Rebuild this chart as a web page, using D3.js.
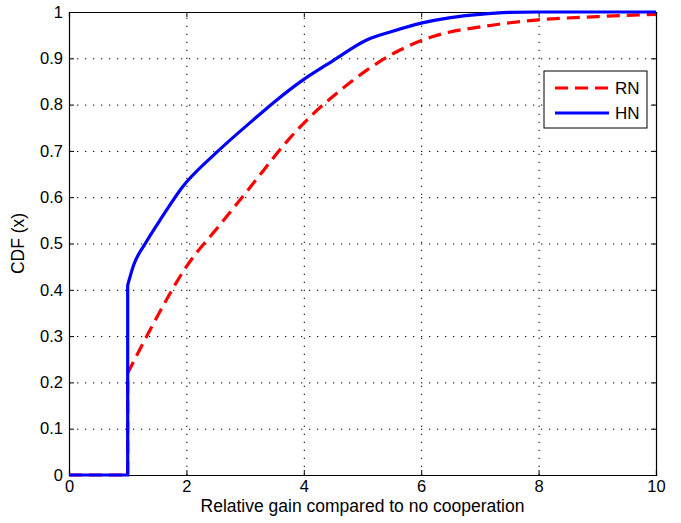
<!DOCTYPE html>
<html>
<head>
<meta charset="utf-8">
<script src="https://cdn.jsdelivr.net/npm/d3@7"></script>
<style>
  body { margin: 0; background: #fff; }
  svg { display: block; font-family: "Liberation Sans", Arial, sans-serif; }
  .axis path { stroke: #000; }
  .axis line { stroke: #000; }
  .axis text { font-size: 16.5px; fill: #000; }
  .grid line { stroke: #000; stroke-dasharray: 1.3, 6.7; }
  .grid path { display: none; }
</style>
</head>
<body>
<svg id="chart"></svg>
<script>
// Series (x = relative gain, y = CDF)
const rnX = [0, 1, 1, 1.38, 2, 2.57, 3.14, 3.71, 4.16, 4.5, 5.08, 5.64, 6.2, 7.12, 8, 9, 10];
const rnY = [0, 0, 0.22, 0.313, 0.45, 0.54, 0.63, 0.72, 0.78, 0.818, 0.875, 0.918, 0.947, 0.97, 0.983, 0.99, 0.995];

const hnX = [0, 1, 1, 1.1, 1.3, 1.6, 1.92, 2.5, 3.14, 3.54, 3.94, 4.5, 5.08, 5.5, 6, 6.5, 7, 7.5, 8, 10];
const hnY = [0, 0, 0.41, 0.453, 0.5, 0.56, 0.62, 0.695, 0.767, 0.81, 0.849, 0.895, 0.94, 0.958, 0.976, 0.988, 0.995, 0.999, 1, 1];

const xTicks = [0, 2, 4, 6, 8, 10];
const yTicks = [0, 0.1, 0.2, 0.3, 0.4, 0.5, 0.6, 0.7, 0.8, 0.9, 1];

const seriesNames = ["RN", "HN"];
const seriesColors = ["#ff0000", "#0000ff"];

const width = 681;
const height = 523;
const margin = { top: 12, right: 25, bottom: 48, left: 69 };
const innerW = width - margin.left - margin.right;
const innerH = height - margin.top - margin.bottom;

const svg = d3.select("#chart")
    .attr("width", width)
    .attr("height", height);

const g = svg.append("g")
    .attr("transform", `translate(${margin.left},${margin.top})`);

const x = d3.scaleLinear().domain([0, 10]).range([0, innerW]);
const y = d3.scaleLinear().domain([0, 1]).range([innerH, 0]);

// dotted grid
g.append("g")
    .attr("class", "grid")
    .attr("transform", `translate(0,${innerH})`)
    .call(d3.axisBottom(x).tickValues(xTicks.slice(1, -1)).tickSize(-innerH).tickFormat(""));
g.append("g")
    .attr("class", "grid")
    .call(d3.axisLeft(y).tickValues(yTicks.slice(1, -1)).tickSize(-innerW).tickFormat(""));

// axes with inward ticks on all four sides
g.append("g")
    .attr("class", "axis")
    .attr("transform", `translate(0,${innerH})`)
    .call(d3.axisBottom(x).tickValues(xTicks).tickSize(-5).tickPadding(5).tickFormat(d3.format("d")));
g.append("g")
    .attr("class", "axis")
    .call(d3.axisTop(x).tickValues(xTicks).tickSize(-5).tickFormat(""));
g.append("g")
    .attr("class", "axis")
    .call(d3.axisLeft(y).tickValues(yTicks).tickSize(-5).tickPadding(6).tickFormat(d => d3.format("")(d)));
g.append("g")
    .attr("class", "axis")
    .attr("transform", `translate(${innerW},0)`)
    .call(d3.axisRight(y).tickValues(yTicks).tickSize(-5).tickFormat(""));

g.selectAll(".axis .domain").attr("stroke-width", 1.2);

// curves: straight step at x = 1, smooth afterwards
const stepLine = d3.line()
    .x(d => x(d[0]))
    .y(d => y(d[1]));
const smoothLine = d3.line()
    .x(d => x(d[0]))
    .y(d => y(d[1]))
    .curve(d3.curveMonotoneX);

function cdfPath(xs, ys) {
    const pts = d3.zip(xs, ys);
    return stepLine(pts.slice(0, 3)) + smoothLine(pts.slice(2)).replace(/^M/, "L");
}

g.append("path")
    .attr("d", cdfPath(rnX, rnY))
    .attr("fill", "none")
    .attr("stroke", seriesColors[0])
    .attr("stroke-width", 3.2)
    .attr("stroke-dasharray", "13,7");

g.append("path")
    .attr("d", cdfPath(hnX, hnY))
    .attr("fill", "none")
    .attr("stroke", seriesColors[1])
    .attr("stroke-width", 3.2);

// axis labels
svg.append("text")
    .attr("x", margin.left + innerW / 2)
    .attr("y", 512)
    .attr("text-anchor", "middle")
    .attr("font-size", 17.5)
    .text("Relative gain compared to no cooperation");

svg.append("text")
    .attr("transform", `translate(24,${margin.top + innerH / 2}) rotate(-90)`)
    .attr("text-anchor", "middle")
    .attr("font-size", 17.5)
    .text("CDF (x)");

// legend
const legend = svg.append("g").attr("transform", "translate(544,71)");
legend.append("rect")
    .attr("width", 103)
    .attr("height", 57)
    .attr("fill", "#fff")
    .attr("stroke", "#000")
    .attr("stroke-width", 1);

seriesNames.forEach((name, i) => {
    const ly = 17 + i * 25;
    legend.append("line")
        .attr("x1", 11).attr("x2", 65)
        .attr("y1", ly).attr("y2", ly)
        .attr("stroke", seriesColors[i])
        .attr("stroke-width", 3.2)
        .attr("stroke-dasharray", i === 0 ? "13,7" : null);
    legend.append("text")
        .attr("x", 71)
        .attr("y", ly + 6)
        .attr("font-size", 17)
        .text(name);
});
</script>
</body>
</html>
